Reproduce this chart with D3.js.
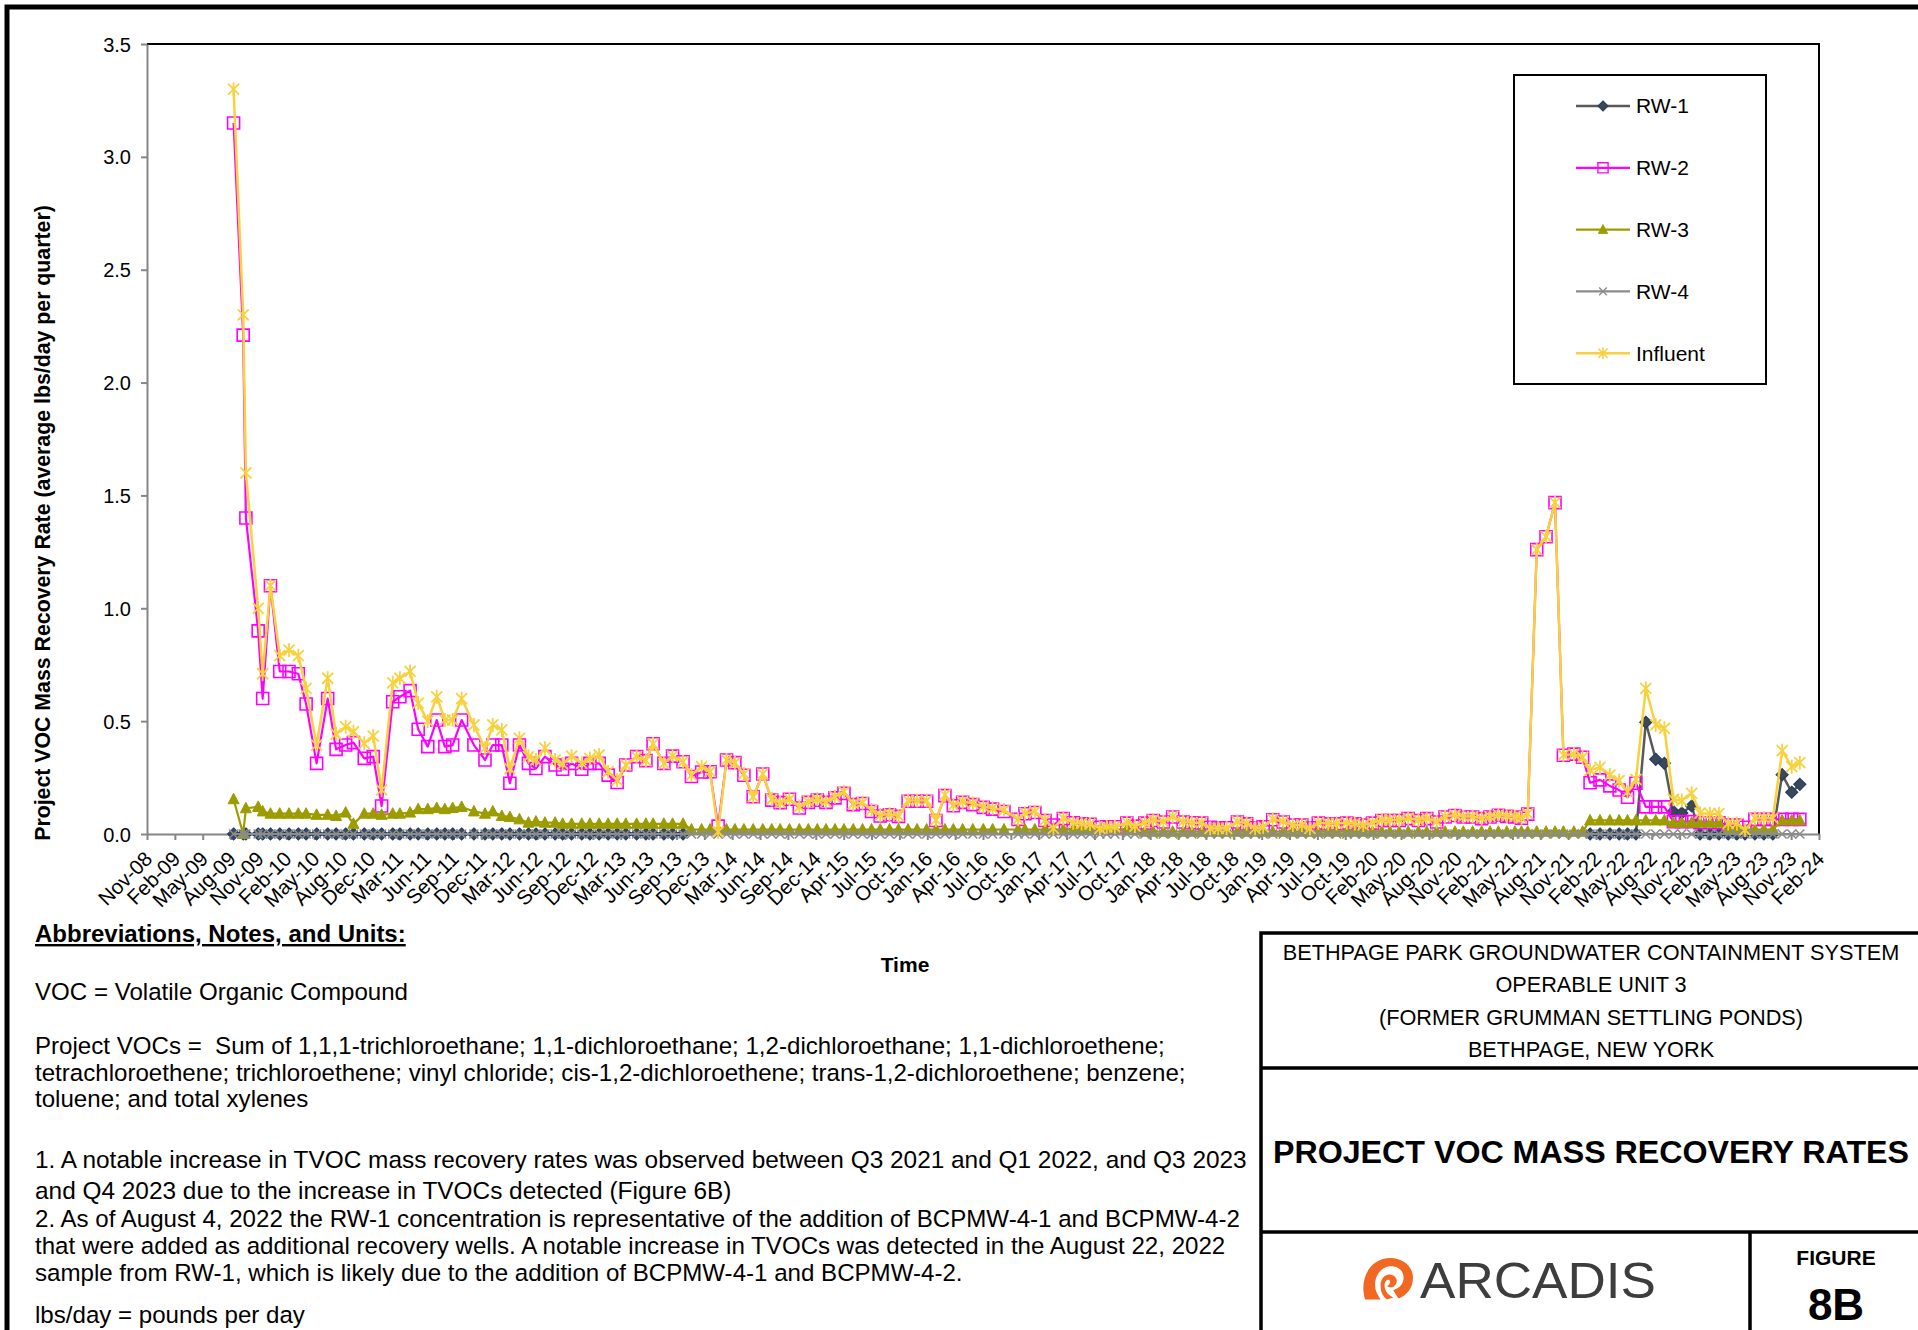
<!DOCTYPE html>
<html>
<head>
<meta charset="utf-8">
<title>Project VOC Mass Recovery Rates</title>
<script src="https://cdn.jsdelivr.net/npm/d3@7/dist/d3.min.js"></script>
<style>
    body { margin: 0; background: #ffffff; }
    svg text { font-family: "Liberation Sans", Arial, sans-serif; fill: #000000; }
</style>
</head>
<body>
<svg id="figure" width="1918" height="1330"></svg>
<script>

//*************************************************
// Data
//*************************************************
var seriesNames = ['RW-1', 'RW-2', 'RW-3', 'RW-4', 'Influent'];

var sampleDates = [
    '2009-09-03','2009-10-05','2009-10-14','2009-11-24','2009-12-09',
    '2010-01-04','2010-02-04','2010-03-07','2010-04-07','2010-05-03','2010-06-07','2010-07-14','2010-08-11','2010-09-12','2010-10-08','2010-11-13','2010-12-13',
    '2011-01-10','2011-02-16','2011-03-12','2011-04-15','2011-05-12','2011-06-13','2011-07-13','2011-08-09','2011-09-04','2011-10-04','2011-11-14','2011-12-21',
    '2012-01-16','2012-02-15','2012-03-13','2012-04-14','2012-05-14','2012-06-08','2012-07-08','2012-08-11','2012-09-05','2012-10-05','2012-11-08','2012-12-05',
    '2013-01-05','2013-02-04','2013-03-06','2013-04-04','2013-05-10','2013-06-10','2013-07-04','2013-08-09','2013-09-07','2013-10-12','2013-11-09','2013-12-13',
    '2014-01-10','2014-02-06','2014-03-06','2014-04-03','2014-05-03','2014-06-03','2014-07-05','2014-08-04','2014-09-01','2014-10-02','2014-11-04','2014-12-04',
    '2015-01-03','2015-02-01','2015-03-03','2015-04-02','2015-05-03','2015-06-03','2015-07-03','2015-08-01','2015-09-01','2015-10-01','2015-11-02','2015-12-02',
    '2016-01-03','2016-02-03','2016-03-04','2016-04-01','2016-05-02','2016-06-05','2016-07-10','2016-08-10','2016-09-17','2016-11-03','2016-11-26','2016-12-29',
    '2017-02-01','2017-03-01','2017-04-03','2017-05-06','2017-06-03','2017-07-01','2017-08-03','2017-08-26','2017-09-22','2017-11-01','2017-11-28','2017-12-31',
    '2018-01-28','2018-03-03','2018-04-03','2018-05-08','2018-06-06','2018-07-09','2018-08-06','2018-09-02','2018-09-30','2018-11-05','2018-12-06',
    '2019-01-03','2019-01-30','2019-03-03','2019-04-07','2019-05-09','2019-06-08','2019-07-05','2019-08-02','2019-09-04','2019-10-02','2019-11-05','2019-12-02','2019-12-30',
    '2020-01-30','2020-03-01','2020-03-28','2020-04-28','2020-05-28','2020-07-01','2020-07-29','2020-08-31','2020-09-28','2020-10-31','2020-11-28','2020-12-29',
    '2021-01-28','2021-02-25','2021-03-25','2021-04-22','2021-05-19','2021-06-10','2021-07-01','2021-07-31','2021-08-31','2021-09-30','2021-10-28','2021-12-02','2021-12-31',
    '2022-01-25','2022-02-27','2022-04-01','2022-05-02','2022-05-30','2022-06-27','2022-07-30','2022-09-01','2022-09-30','2022-10-30','2022-11-27','2022-12-30',
    '2023-01-27','2023-03-01','2023-03-31','2023-05-01','2023-05-30','2023-06-26','2023-07-29','2023-08-28','2023-09-27','2023-10-28','2023-11-29','2023-12-26'
];

// lbs/day, same order as sampleDates (null = no sample plotted)
var rw1Values = [
    0, 0, 0, 0, 0,
    0, 0, 0, 0, 0, 0, 0, 0, 0, 0, 0, 0,
    0, 0, 0, 0, 0, 0, 0, 0, 0, 0, 0, 0,
    0, 0, 0, 0, 0, 0, 0, 0, 0, 0, 0, 0,
    0, 0, 0, 0, 0, 0, 0, 0, 0, 0, null, null,
    null, null, null, null, null, null, null, null, null, null, null, null,
    null, null, null, null, null, null, null, null, null, null, null, null,
    null, null, null, null, null, null, null, null, null, null, null, null,
    null, null, null, null, null, null, null, null, null, null, null, null,
    null, null, null, null, null, null, null, null, null, null, null,
    null, null, null, null, null, null, null, null, null, null, null, null, null,
    null, null, null, null, null, null, null, null, null, null, null, null,
    null, null, null, null, null, null, null, null, null, null, null, null, null,
    0, 0, 0, 0, 0, 0, 0.495, 0.331, 0.313, 0.10, 0.093, 0.124,
    0, 0, 0, 0, 0, 0, 0, 0, 0, 0.263, 0.185, 0.22
];

var rw2Values = [
    3.15, 2.21, 1.40, 0.90, 0.60,
    1.10, 0.72, 0.72, 0.71, 0.576, 0.313, 0.60, 0.375, 0.394, 0.405, 0.335, 0.343,
    0.124, 0.586, 0.608, 0.635, 0.464, 0.387, 0.505, 0.387, 0.394, 0.505, 0.394, 0.328,
    0.394, 0.394, 0.225, 0.394, 0.313, 0.29, 0.343, 0.306, 0.287, 0.313, 0.287, 0.313,
    0.313, 0.261, 0.228, 0.306, 0.343, 0.325, 0.40, 0.313, 0.345, 0.32, 0.255, 0.275,
    0.276, 0.035, 0.328, 0.316, 0.26, 0.165, 0.266, 0.15, 0.139, 0.154, 0.115, 0.14,
    0.15, 0.14, 0.16, 0.18, 0.13, 0.135, 0.10, 0.08, 0.085, 0.078, 0.145, 0.145,
    0.145, 0.06, 0.17, 0.125, 0.14, 0.13, 0.118, 0.11, 0.10, 0.065, 0.09, 0.095,
    0.06, 0.04, 0.068, 0.05, 0.045, 0.043, 0.03, 0.032, 0.032, 0.048, 0.035, 0.048,
    0.06, 0.053, 0.075, 0.053, 0.05, 0.048, 0.03, 0.028, 0.028, 0.053, 0.045,
    0.028, 0.032, 0.063, 0.053, 0.04, 0.04, 0.028, 0.048, 0.045, 0.045, 0.048, 0.045, 0.04,
    0.048, 0.06, 0.06, 0.06, 0.068, 0.06, 0.068, 0.053, 0.075, 0.082, 0.075, 0.075,
    0.068, 0.075, 0.083, 0.078, 0.075, 0.07, 0.088, 1.26, 1.317, 1.468, 0.349, 0.354, 0.34,
    0.227, 0.24, 0.213, 0.195, 0.163, 0.225, 0.12, 0.12, 0.12, 0.055, 0.055, 0.055,
    0.05, 0.05, 0.05, 0.04, 0.04, 0.03, 0.065, 0.065, 0.065, 0.065, 0.065, 0.065
];

var rw3Values = [
    0.154, 0.0, 0.114, 0.12, 0.10,
    0.09, 0.09, 0.09, 0.09, 0.09, 0.085, 0.085, 0.08, 0.095, 0.045, 0.09, 0.09,
    0.085, 0.09, 0.09, 0.095, 0.11, 0.11, 0.115, 0.11, 0.115, 0.12, 0.10, 0.09,
    0.10, 0.08, 0.075, 0.065, 0.05, 0.055, 0.05, 0.05, 0.045, 0.045, 0.045, 0.045,
    0.045, 0.045, 0.045, 0.045, 0.045, 0.045, 0.045, 0.045, 0.045, 0.045, 0.02, 0.02,
    0.02, 0.02, 0.02, 0.02, 0.02, 0.02, 0.02, 0.02, 0.02, 0.02, 0.02, 0.02,
    0.02, 0.02, 0.02, 0.02, 0.02, 0.02, 0.02, 0.02, 0.02, 0.02, 0.02, 0.02,
    0.02, 0.02, 0.02, 0.02, 0.02, 0.02, 0.02, 0.02, 0.02, 0.02, 0.02, 0.02,
    0.02, 0.02, 0.02, 0.02, 0.02, 0.02, 0.02, 0.02, 0.02, 0.02, 0.02, 0.01,
    0.01, 0.01, 0.01, 0.01, 0.01, 0.01, 0.01, 0.01, 0.01, 0.01, 0.01,
    0.01, 0.01, 0.01, 0.01, 0.01, 0.01, 0.01, 0.01, 0.01, 0.01, 0.01, 0.01, 0.01,
    0.01, 0.01, 0.01, 0.01, 0.01, 0.01, 0.01, 0.01, 0.01, 0.01, 0.01, 0.01,
    0.01, 0.01, 0.01, 0.01, 0.01, 0.01, 0.01, 0.01, 0.01, 0.01, 0.01, 0.01, 0.01,
    0.06, 0.06, 0.06, 0.06, 0.06, 0.06, 0.06, 0.06, 0.06, 0.05, 0.05, 0.05,
    0.05, 0.05, 0.05, 0.02, 0.02, 0.02, 0.02, 0.02, 0.02, 0.06, 0.06, 0.06
];

var rw4Values = [
    0, 0, 0, 0, 0,
    0, 0, 0, 0, 0, 0, 0, 0, 0, 0, 0, 0,
    0, 0, 0, 0, 0, 0, 0, 0, 0, 0, 0, 0,
    0, 0, 0, 0, 0, 0, 0, 0, 0, 0, 0, 0,
    0, 0, 0, 0, 0, 0, 0, 0, 0, 0, 0, 0,
    0, 0, 0, 0, 0, 0, 0, 0, 0, 0, 0, 0,
    0, 0, 0, 0, 0, 0, 0, 0, 0, 0, 0, 0,
    0, 0, 0, 0, 0, 0, 0, 0, 0, 0, 0, 0,
    0, 0, 0, 0, 0, 0, 0, 0, 0, 0, 0, 0,
    0, 0, 0, 0, 0, 0, 0, 0, 0, 0, 0,
    0, 0, 0, 0, 0, 0, 0, 0, 0, 0, 0, 0, 0,
    0, 0, 0, 0, 0, 0, 0, 0, 0, 0, 0, 0,
    0, 0, 0, 0, 0, 0, 0, 0, 0, 0, 0, 0, 0,
    0, 0, 0, 0, 0, 0, 0, 0, 0, 0, 0, 0,
    0, 0, 0, 0, 0, 0, 0, 0, 0, 0, 0, 0
];

var influentValues = [
    3.30, 2.30, 1.60, 1.00, 0.71,
    1.10, 0.79, 0.815, 0.79, 0.645, 0.394, 0.69, 0.443, 0.475, 0.453, 0.402, 0.434,
    0.195, 0.67, 0.69, 0.72, 0.58, 0.50, 0.608, 0.505, 0.505, 0.60, 0.483, 0.38,
    0.483, 0.461, 0.29, 0.424, 0.343, 0.328, 0.38, 0.328, 0.31, 0.345, 0.313, 0.335,
    0.35, 0.276, 0.239, 0.306, 0.343, 0.325, 0.399, 0.313, 0.345, 0.32, 0.261, 0.298,
    0.276, 0.01, 0.328, 0.316, 0.266, 0.165, 0.266, 0.154, 0.139, 0.154, 0.121, 0.143,
    0.154, 0.143, 0.165, 0.187, 0.133, 0.139, 0.106, 0.084, 0.089, 0.08, 0.148, 0.148,
    0.148, 0.062, 0.173, 0.128, 0.143, 0.136, 0.121, 0.114, 0.106, 0.066, 0.092, 0.099,
    0.062, 0.025, 0.07, 0.05, 0.047, 0.044, 0.025, 0.032, 0.032, 0.05, 0.035, 0.05,
    0.062, 0.055, 0.077, 0.055, 0.05, 0.05, 0.025, 0.025, 0.025, 0.055, 0.047,
    0.025, 0.032, 0.065, 0.055, 0.04, 0.04, 0.025, 0.05, 0.047, 0.047, 0.05, 0.047, 0.04,
    0.05, 0.062, 0.062, 0.062, 0.07, 0.062, 0.07, 0.055, 0.077, 0.084, 0.077, 0.077,
    0.07, 0.077, 0.085, 0.08, 0.077, 0.072, 0.09, 1.26, 1.317, 1.468, 0.349, 0.354, 0.34,
    0.283, 0.295, 0.261, 0.236, 0.187, 0.242, 0.645, 0.483, 0.468, 0.154, 0.148, 0.18,
    0.092, 0.09, 0.09, 0.047, 0.047, 0.018, 0.07, 0.07, 0.07, 0.369, 0.298, 0.316
];

// date axis: first label date and a 93 day major unit
var axisStartDate = '2008-11-18';
var tickStepDays = 93;
var tickLabels = [
    'Nov-08','Feb-09','May-09','Aug-09','Nov-09','Feb-10','May-10','Aug-10','Dec-10','Mar-11',
    'Jun-11','Sep-11','Dec-11','Mar-12','Jun-12','Sep-12','Dec-12','Mar-13','Jun-13','Sep-13',
    'Dec-13','Mar-14','Jun-14','Sep-14','Dec-14','Apr-15','Jul-15','Oct-15','Jan-16','Apr-16',
    'Jul-16','Oct-16','Jan-17','Apr-17','Jul-17','Oct-17','Jan-18','Apr-18','Jul-18','Oct-18',
    'Jan-19','Apr-19','Jul-19','Oct-19','Feb-20','May-20','Aug-20','Nov-20','Feb-21','May-21',
    'Aug-21','Nov-21','Feb-22','May-22','Aug-22','Nov-22','Feb-23','May-23','Aug-23','Nov-23',
    'Feb-24'
];
var yTickValues = [0, 0.5, 1.0, 1.5, 2.0, 2.5, 3.0, 3.5];

var yAxisTitle = 'Project VOC Mass Recovery Rate (average lbs/day per quarter)';
var xAxisTitle = 'Time';

var notesHeading = 'Abbreviations, Notes, and Units:';
var notesLines = [
    'VOC = Volatile Organic Compound',
    'Project VOCs =  Sum of 1,1,1-trichloroethane; 1,1-dichloroethane; 1,2-dichloroethane; 1,1-dichloroethene;',
    'tetrachloroethene; trichloroethene; vinyl chloride; cis-1,2-dichloroethene; trans-1,2-dichloroethene; benzene;',
    'toluene; and total xylenes',
    '1. A notable increase in TVOC mass recovery rates was observed between Q3 2021 and Q1 2022, and Q3 2023',
    'and Q4 2023 due to the increase in TVOCs detected (Figure 6B)',
    '2. As of August 4, 2022 the RW-1 concentration is representative of the addition of BCPMW-4-1 and BCPMW-4-2',
    'that were added as additional recovery wells. A notable increase in TVOCs was detected in the August 22, 2022',
    'sample from RW-1, which is likely due to the addition of BCPMW-4-1 and BCPMW-4-2.',
    'lbs/day = pounds per day'
];

var siteLines = [
    'BETHPAGE PARK GROUNDWATER CONTAINMENT SYSTEM',
    'OPERABLE UNIT 3',
    '(FORMER GRUMMAN SETTLING PONDS)',
    'BETHPAGE, NEW YORK'
];
var figureTitle = 'PROJECT VOC MASS RECOVERY RATES';
var figureNumber = '8B';


d3.vocRecoveryChart = function (){

    //*************************************************
    // Public Variables loaded with default values
    //*************************************************
    var _width = 1918;
    var _height = 1330;
    var _colors = [ '#595959', '#ff00ff', '#9c9c00', '#8c8c8c', '#f7d23e' ];
    var _paddingObject = {
        bottom: 496,
        left: 147,
        right: 99,
        top: 44
    };

    //**********************************************************************************
    // Internal Variables
    //**********************************************************************************
    var __chartWidth;
    var __chartHeight;
    var __axisGray = '#868686';
    var __markers = {
        'RW-1': { d: 'M0,-6L6,0L0,6L-6,0Z', fill: '#3f4752', stroke: '#1f3f6e', width: 1.2 },
        'RW-2': { d: 'M-6,-6H6V6H-6Z', fill: 'none', stroke: '#ff00ff', width: 1.6 },
        'RW-3': { d: 'M0,-6L5.5,4.5L-5.5,4.5Z', fill: '#9c9c00', stroke: '#9c9c00', width: 1 },
        'RW-4': { d: 'M-4.5,-4.5L4.5,4.5M-4.5,4.5L4.5,-4.5', fill: 'none', stroke: '#8c8c8c', width: 1.6 },
        'Influent': { d: 'M-5.5,-5.5L5.5,5.5M-5.5,5.5L5.5,-5.5M0,-7V7', fill: 'none', stroke: '#f7d23e', width: 1.8 }
    };
    var __lineWidths = [ 2.5, 2.2, 2.2, 2.2, 2.5 ];


    function chart(selection){
        selection.each(function (data, i){

            var initialNode = d3.select(this);
            var rootNodeWrapper = initialNode.selectAll('.rootNode').data([data]);
            rootNodeWrapper.enter().append('g')
                .attr('class', 'rootNode');

            var rootNode = initialNode.select('.rootNode')
                .attr('transform', 'translate(' + _paddingObject.left + ',' + _paddingObject.top + ')');

            __chartWidth = _width - _paddingObject.left - _paddingObject.right;
            __chartHeight = _height - _paddingObject.top - _paddingObject.bottom;

            //----------------------------------------------------------------------------------
            // Scales (Excel date axis, 93 day major unit)
            //----------------------------------------------------------------------------------
            var parseDate = d3.timeParse('%Y-%m-%d');
            var startDate = parseDate(axisStartDate);
            var tickDates = tickLabels.map(function (lbl, k){ return d3.timeDay.offset(startDate, tickStepDays * k); });

            var x = d3.scaleTime()
                .domain([startDate, tickDates[tickDates.length - 1]])
                .range([0, __chartWidth]);
            var y = d3.scaleLinear()
                .domain([0, 3.5])
                .range([__chartHeight, 0]);

            //----------------------------------------------------------------------------------
            // Plot area frame (top + right are black, axes are gray)
            //----------------------------------------------------------------------------------
            rootNode.append('path')
                .attr('d', 'M0,0H' + __chartWidth + 'V' + __chartHeight)
                .attr('fill', 'none')
                .attr('stroke', '#000')
                .attr('stroke-width', 2);

            //----------------------------------------------------------------------------------
            // Axes
            //----------------------------------------------------------------------------------
            var yAxis = rootNode.append('g')
                .attr('class', 'y axis')
                .call(d3.axisLeft(y).tickValues(yTickValues).tickFormat(d3.format('.1f'))
                    .tickSizeInner(6).tickSizeOuter(0).tickPadding(10));
            yAxis.selectAll('text').attr('font-size', 20).attr('dy', '0.35em');

            var xAxis = rootNode.append('g')
                .attr('class', 'x axis')
                .attr('transform', 'translate(0,' + __chartHeight + ')')
                .call(d3.axisBottom(x).tickValues(tickDates)
                    .tickFormat(function (d, k){ return tickLabels[k]; })
                    .tickSizeInner(6).tickSizeOuter(0));
            xAxis.selectAll('text')
                .attr('font-size', 20.5)
                .attr('text-anchor', 'end')
                .attr('x', 0)
                .attr('y', 0)
                .attr('dy', '0.35em')
                .attr('transform', 'translate(1,21) rotate(-45)');

            rootNode.selectAll('.axis path, .axis line')
                .attr('stroke', __axisGray)
                .attr('stroke-width', 2);
            rootNode.selectAll('.axis text').attr('fill', '#000');

            //----------------------------------------------------------------------------------
            // Series: line first, then markers, in legend order (Influent on top)
            //----------------------------------------------------------------------------------
            var lineGen = d3.line()
                .defined(function (d){ return d.value !== null; })
                .x(function (d){ return x(d.date); })
                .y(function (d){ return y(d.value); });

            var seriesGroups = rootNode.selectAll('.series').data(data);
            var seriesEnter = seriesGroups.enter().append('g')
                .attr('class', 'series');

            seriesEnter.each(function (s, k){
                var g = d3.select(this);
                var mk = __markers[s.name];
                g.append('path')
                    .attr('d', lineGen(s.values))
                    .attr('fill', 'none')
                    .attr('stroke', _colors[k])
                    .attr('stroke-width', __lineWidths[k])
                    .attr('stroke-linejoin', 'round');
                g.selectAll('.marker')
                    .data(s.values.filter(function (d){ return d.value !== null; }))
                    .enter().append('path')
                    .attr('class', 'marker')
                    .attr('transform', function (d){ return 'translate(' + x(d.date) + ',' + y(d.value) + ')'; })
                    .attr('d', mk.d)
                    .attr('fill', mk.fill)
                    .attr('stroke', mk.stroke)
                    .attr('stroke-width', mk.width);
            });

            //----------------------------------------------------------------------------------
            // Legend
            //----------------------------------------------------------------------------------
            var legend = initialNode.append('g').attr('class', 'legend');
            legend.append('rect')
                .attr('x', 1514).attr('y', 75)
                .attr('width', 252).attr('height', 309)
                .attr('fill', '#fff')
                .attr('stroke', '#000')
                .attr('stroke-width', 2);
            var legendItems = legend.selectAll('.legendItem').data(data).enter().append('g')
                .attr('class', 'legendItem')
                .attr('transform', function (s, k){ return 'translate(1576,' + (106 + k * 61.8) + ')'; });
            legendItems.append('line')
                .attr('x1', 0).attr('x2', 54)
                .attr('stroke', function (s, k){ return _colors[k]; })
                .attr('stroke-width', function (s, k){ return __lineWidths[k]; });
            legendItems.append('path')
                .attr('transform', 'translate(27,0) scale(0.85)')
                .attr('d', function (s){ return __markers[s.name].d; })
                .attr('fill', function (s){ return __markers[s.name].fill; })
                .attr('stroke', function (s){ return __markers[s.name].stroke; })
                .attr('stroke-width', function (s){ return __markers[s.name].width; });
            legendItems.append('text')
                .attr('x', 60)
                .attr('dy', '0.35em')
                .attr('font-size', 21)
                .text(function (s){ return s.name; });

            //----------------------------------------------------------------------------------
            // Axis titles
            //----------------------------------------------------------------------------------
            initialNode.append('text')
                .attr('transform', 'translate(50,523) rotate(-90)')
                .attr('text-anchor', 'middle')
                .attr('font-size', 21.3)
                .attr('font-weight', 'bold')
                .text(yAxisTitle);
            initialNode.append('text')
                .attr('x', 905).attr('y', 972)
                .attr('text-anchor', 'middle')
                .attr('font-size', 21)
                .attr('font-weight', 'bold')
                .text(xAxisTitle);

            drawNotes(initialNode);
            drawTitleBlock(initialNode);

            // outer sheet border (top and left are inside the picture)
            initialNode.append('path')
                .attr('d', 'M7,1330V7H1918')
                .attr('fill', 'none')
                .attr('stroke', '#000')
                .attr('stroke-width', 5);

        });//selection.each()

    } //function chart

    //-------------------------------------------------
    // Getters and setters for public variables
    //-------------------------------------------------
    chart.width = function (value){
        if (!arguments.length){
            return _width;
        }
        _width = value;
        return chart;
    };
    chart.height = function (value){
        if (!arguments.length){
            return _height;
        }
        _height = value;
        return chart;
    };
    chart.colors = function (arrayOfColors){
        if (!arguments.length){
            return _colors;
        }
        _colors = arrayOfColors;
        return chart;
    };
    chart.padding = function (newObject){
        if (!arguments.length){
            return _paddingObject;
        }
        _paddingObject = newObject;
        return chart;
    };

    //----------------------------------------------------------------------------------
    // Helper Functions
    //----------------------------------------------------------------------------------
    function drawNotes(node){
        var notes = node.append('g').attr('class', 'notes');
        notes.append('text')
            .attr('x', 35).attr('y', 942)
            .attr('font-size', 24)
            .attr('font-weight', 'bold')
            .style('text-decoration', 'underline')
            .text(notesHeading);
        // baselines and sizes of the note lines
        var rows = [
            { y: 1000, size: 24.1 }, { y: 1054, size: 24.1 }, { y: 1081, size: 24.1 }, { y: 1107, size: 24.1 },
            { y: 1168, size: 24.4 }, { y: 1199, size: 24.4 },
            { y: 1227, size: 24.1 }, { y: 1254, size: 24.1 }, { y: 1281, size: 24.1 },
            { y: 1323, size: 24.1 }
        ];
        notes.selectAll('.noteLine').data(notesLines).enter().append('text')
            .attr('class', 'noteLine')
            .attr('x', 35)
            .attr('y', function (d, k){ return rows[k].y; })
            .attr('font-size', function (d, k){ return rows[k].size; })
            .style('white-space', 'pre')
            .text(function (d){ return d; });
    }

    function drawTitleBlock(node){
        var tb = node.append('g').attr('class', 'titleBlock');
        tb.append('path')
            .attr('d', 'M1261,1330V933H1918M1261,1068H1918M1261,1232H1918M1750,1232V1330')
            .attr('fill', 'none')
            .attr('stroke', '#000')
            .attr('stroke-width', 3.5);
        tb.selectAll('.siteLine').data(siteLines).enter().append('text')
            .attr('class', 'siteLine')
            .attr('x', 1591)
            .attr('y', function (d, k){ return 960 + k * 32.4; })
            .attr('text-anchor', 'middle')
            .attr('font-size', 21.7)
            .text(function (d){ return d; });
        tb.append('text')
            .attr('x', 1591).attr('y', 1163)
            .attr('text-anchor', 'middle')
            .attr('font-size', 32.2)
            .attr('font-weight', 'bold')
            .text(figureTitle);

        // company mark
        var logo = tb.append('g').attr('transform', 'translate(1362,1258) scale(1.04)');
        logo.append('path')
            .attr('d', 'M3,40C-2,24 4,6 20,1C34,-3 49,5 49,19C49,29 43,36 35,39L30,31C36,29 40,25 40,19C40,11 33,7 26,8C16,10 11,20 13,30C14,34 16,37 18,40Z')
            .attr('fill', '#f26722');
        logo.append('path')
            .attr('d', 'M18,28C17,20 22,15 28,16C33,17 35,22 32,26C30,29 26,29 24,27C27,26 28,23 26,21C23,20 21,24 22,29C23,33 26,36 30,38L24,40C20,37 18,33 18,28Z')
            .attr('fill', '#f26722');
        tb.append('text')
            .attr('x', 1420).attr('y', 1298)
            .attr('font-size', 50)
            .attr('textLength', 236)
            .attr('lengthAdjust', 'spacingAndGlyphs')
            .style('fill', '#3d3d3d')
            .text('ARCADIS');

        tb.append('text')
            .attr('x', 1836).attr('y', 1265)
            .attr('text-anchor', 'middle')
            .attr('font-size', 21)
            .attr('font-weight', 'bold')
            .text('FIGURE');
        tb.append('text')
            .attr('x', 1836).attr('y', 1320)
            .attr('text-anchor', 'middle')
            .attr('font-size', 44)
            .attr('font-weight', 'bold')
            .text(figureNumber);
    }

    //**********************************************************************************
    // Final Return (allows method chaining)
    //**********************************************************************************
    return chart;
};


//*************************************************
// Build the series table from the named arrays and draw
//*************************************************
var parseSample = d3.timeParse('%Y-%m-%d');
var valueArrays = [ rw1Values, rw2Values, rw3Values, rw4Values, influentValues ];
var seriesTable = seriesNames.map(function (name, k){
    return {
        name: name,
        values: sampleDates.map(function (d, j){
            return { date: parseSample(d), value: valueArrays[k][j] };
        })
    };
});

var vocChart = d3.vocRecoveryChart();
d3.select('#figure')
    .datum(seriesTable)
    .call(vocChart);

</script>
</body>
</html>
